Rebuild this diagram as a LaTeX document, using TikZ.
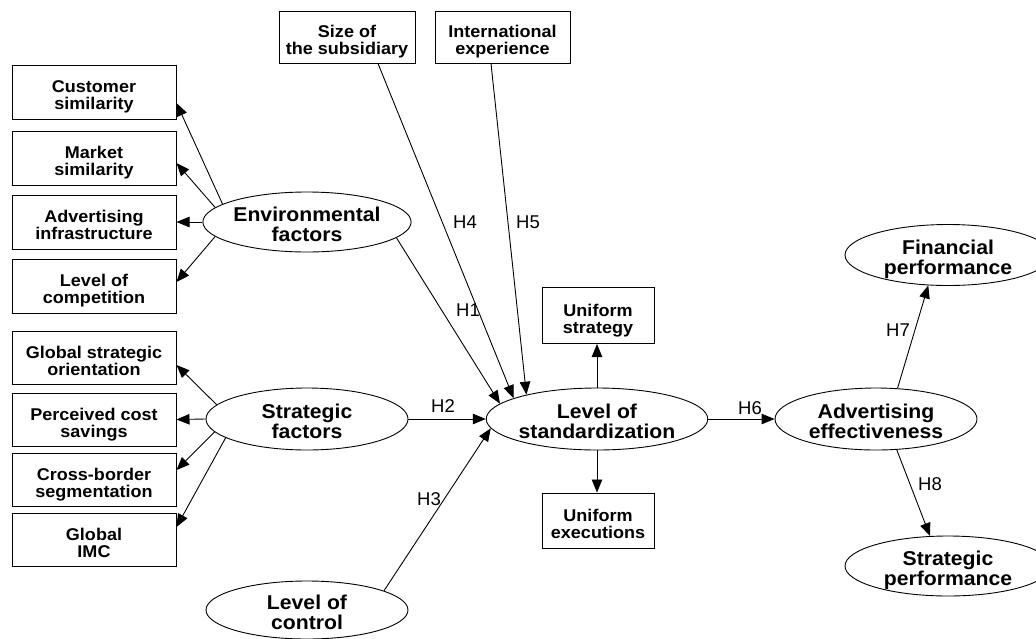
\documentclass[tikz,border=0pt]{standalone}
\usepackage{fontspec}
\setmainfont{Liberation Sans}
\newfontfamily\stretchfont[FakeStretch=1.06]{Liberation Sans}
\usetikzlibrary{shapes.geometric,arrows.meta}
\newcommand{\twolineB}[2]{\rule{0pt}{18.2pt}#1\\\smash{#2}}
\newcommand{\twolineE}[2]{\rule{0pt}{19.3pt}#1\\\smash{#2}}
\begin{document}
\begin{tikzpicture}[x=1pt,y=-1pt,
  boxnode/.style={draw,line width=1pt,minimum width=164pt,minimum height=54pt,inner sep=0pt,align=center,
    font=\stretchfont\bfseries\fontsize{17}{16.8}\selectfont},
  ellnode/.style={draw,ellipse,line width=0.9pt,minimum width=202pt,minimum height=61pt,inner sep=0pt,align=center,
    font=\stretchfont\bfseries\fontsize{20}{19.5}\selectfont},
  hlabel/.style={inner sep=0pt,font=\fontsize{18.5}{18.5}\selectfont},
  arr/.style={line width=0.9pt,-{Triangle[length=13pt,width=10.5pt]}}
]
\useasboundingbox (0,0) rectangle (1036,638);
% left boxes
\node[boxnode] (cs) at (94,92) {\twolineB{Customer}{similarity}};
\node[boxnode] (ms) at (94,158) {\twolineB{Market}{similarity}};
\node[boxnode] (ai) at (94,222) {\twolineB{Advertising}{infrastructure}};
\node[boxnode] (lc) at (94,286) {\twolineB{Level of}{competition}};
\node[boxnode,minimum height=53pt] (gso) at (94,357.5) {\twolineB{Global strategic}{orientation}};
\node[boxnode,minimum height=53pt] (pcs) at (94,419.5) {\twolineB{Perceived cost}{savings}};
\node[boxnode,minimum height=53pt] (cbs) at (94,479.5) {\twolineB{Cross-border}{segmentation}};
\node[boxnode,minimum height=53pt] (imc) at (94,539.5) {\twolineB{Global}{IMC}};
% top boxes
\node[boxnode,minimum width=136pt,minimum height=52pt] (size) at (347,37) {\twolineB{Size of}{the subsidiary}};
\node[boxnode,minimum width=135pt,minimum height=52pt] (intl) at (502.5,37) {\twolineB{International}{experience}};
% uniform boxes
\node[boxnode,minimum width=112pt,minimum height=56pt] (us) at (598,315.5) {\twolineB{Uniform}{strategy}};
\node[boxnode,minimum width=112pt,minimum height=55pt] (ue) at (598,520.5) {\twolineB{Uniform}{executions}};
% ellipses
\node[ellnode,minimum height=60pt] (env) at (307,222) {\twolineE{Environmental}{factors}};
\node[ellnode,minimum height=62pt] (sf) at (307,419) {\twolineE{Strategic}{factors}};
\node[ellnode,minimum height=58pt] (ctrl) at (307,610) {\twolineE{Level of}{control}};
\node[ellnode,minimum width=201pt,minimum height=62pt] (los) at (597,419) {\twolineE{Level of}{standardization}};
\node[ellnode,minimum height=62pt] (ae) at (876,419) {\twolineE{Advertising}{effectiveness}};
\node[ellnode,minimum width=206pt,minimum height=61pt] (fp) at (948,255) {\twolineE{Financial}{performance}};
\node[ellnode,minimum width=206pt,minimum height=60pt] (sp) at (948,566) {\twolineE{Strategic}{performance}};
% environmental indicators
\draw[arr] (env.168) -- ([yshift=-11pt]cs.east);
\draw[arr] (env.171.5) -- ([yshift=-5pt]ms.east);
\draw[arr] (env.180) -- (ai.east);
\draw[arr] (env.189) -- ([yshift=4pt]lc.east);
% strategic indicators
\draw[arr] (sf.171.5) -- ([yshift=-7.5pt]gso.east);
\draw[arr] (sf.180) -- (pcs.east);
\draw[arr] (sf.188) -- ([yshift=9.5pt]cbs.east);
\draw[arr] (sf.193) -- ([yshift=12.5pt]imc.east);
% hypotheses
\draw[arr] (env.350.5) -- (los.171);
\draw[arr] ([xshift=31pt]size.south) -- (los.166.9);
\draw[arr] ([xshift=-11.5pt]intl.south) -- (los.161);
\draw[arr] (sf.east) -- (los.west);
\draw[arr] (ctrl.14.1) -- (los.185.8);
\draw[arr] (los.north) -- (los.north |- us.south);
\draw[arr] (los.south) -- (los.south |- ue.north);
\draw[arr] (los.east) -- (ae.west);
\draw[arr] (ae.55.3) -- (fp.237.7);
\draw[arr] (ae.304.7) -- (sp.121.4);
% labels
\node[hlabel] (h1) at (468,310) {H1};
\node[hlabel] (h2) at (443,406) {H2};
\node[hlabel] (h3) at (429,499) {H3};
\node[hlabel] (h4) at (465,222) {H4};
\node[hlabel] (h5) at (528,222) {H5};
\node[hlabel] (h6) at (750,408) {H6};
\node[hlabel] (h7) at (898,330) {H7};
\node[hlabel] (h8) at (930,484) {H8};
\end{tikzpicture}
\end{document}
